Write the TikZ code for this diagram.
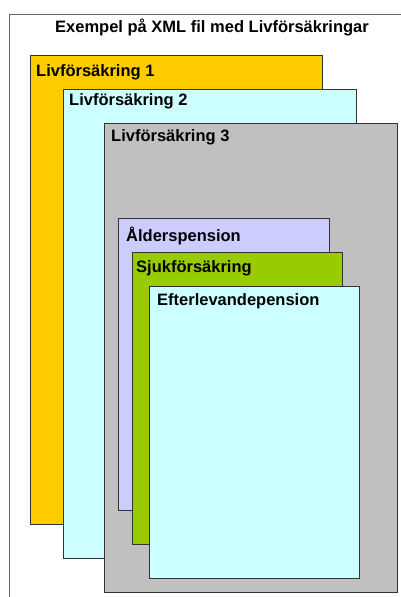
\documentclass[tikz,border=0pt]{standalone}
\usepackage{fontspec}
\setmainfont{Liberation Sans}
\definecolor{cYellow}{HTML}{FFCC00}
\definecolor{cCyan}{HTML}{CCFFFF}
\definecolor{cGray}{HTML}{C0C0C0}
\definecolor{cLav}{HTML}{CCCCFF}
\definecolor{cGreen}{HTML}{99CC00}
\definecolor{cLine}{HTML}{333333}
\tikzset{
  panel/.style={draw=cLine, line width=0.9pt},
  lbl/.style={anchor=base west, inner sep=0pt, font=\fontsize{16.5}{18}\selectfont\bfseries},
}
\begin{document}
\begin{tikzpicture}[x=1pt,y=-1pt]
\useasboundingbox (0,0) rectangle (401,597);
\fill[white] (0,0) rectangle (401,597);
% outer frame (extends past page)
\draw[draw=gray!80!black, line width=0.9pt] (9,600) -- (9,14) -- (405,14);
\node[lbl, anchor=base] (title) at (212,32) {Exempel på XML fil med Livförsäkringar};
% boxes
\draw[panel, fill=cYellow] (30,55) rectangle (322,524);
\node[lbl] (l1) at (36,76) {Livförsäkring 1};
\draw[panel, fill=cCyan] (63,89) rectangle (356,558);
\node[lbl] (l2) at (69,105) {Livförsäkring 2};
\draw[panel, fill=cGray] (104,123) rectangle (397,592);
\node[lbl] (l3) at (111,141) {Livförsäkring 3};
\draw[panel, fill=cLav] (118,218) rectangle (329,510);
\node[lbl] (a) at (126,241) {Ålderspension};
\draw[panel, fill=cGreen] (132,252) rectangle (342,544);
\node[lbl] (s) at (136,272) {Sjukförsäkring};
\draw[panel, fill=cCyan] (149,286) rectangle (359,578);
\node[lbl] (e) at (157,305) {Efterlevandepension};
\end{tikzpicture}
\end{document}
